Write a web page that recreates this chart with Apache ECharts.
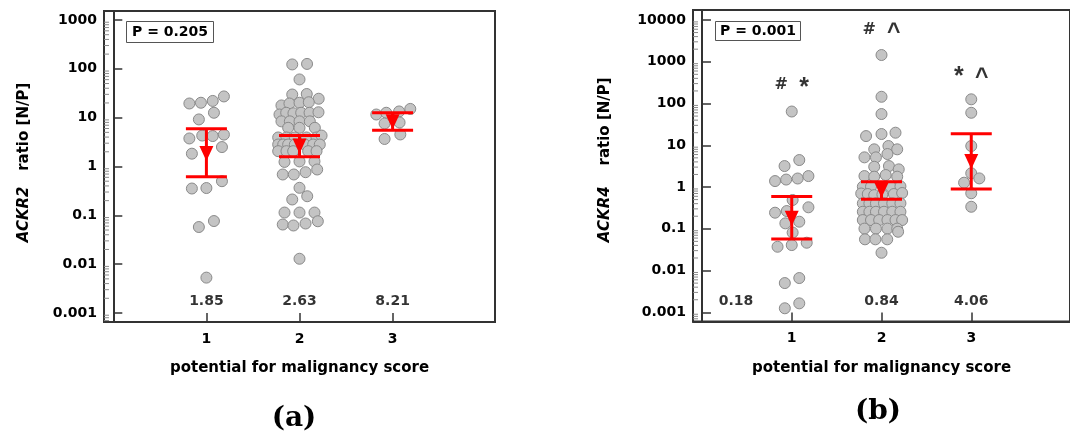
<!DOCTYPE html>
<html><head><meta charset="utf-8">
<script src="https://cdn.jsdelivr.net/npm/echarts@6/dist/echarts.min.js"></script>
<style>html,body{margin:0;padding:0;background:#fff}#c{width:1070px;height:432px}</style>
</head><body><div id="c"></div>
<script>
// ---------- data ----------
const scoreCategories = [1, 2, 3];
const xTickLabels = ['1', '2', '3'];
const xAxisTitle = 'potential for malignancy score';
const panelLabels = ['(a)', '(b)'];
const pValueTexts = ['P = 0.205', 'P = 0.001'];

// beeswarm points: [horizontal offset from the score, N/P ratio]
const ackr2Score1 = [[-0.183,19.5],[-0.059,20.2],[0.068,22],[0.188,27.2],[0.081,12.6],[-0.081,9.2],
  [-0.183,3.75],[-0.045,4.3],[0.068,4.2],[0.188,4.5],[0.167,2.5],[-0.156,1.83],
  [-0.156,0.354],[0,0.362],[0.167,0.50],[-0.081,0.0576],[0.081,0.0764],[0,0.0053]];
const ackr2Score2 = [[-0.078,123],[0.081,126],[0,60.6],[-0.078,29.8],[0.078,30.5],[0.206,24.4],
  [-0.194,17.8],[-0.108,19.5],[0,20.2],[0.1,20.7],
  [-0.215,11.6],[-0.143,12.6],[-0.065,12.3],[0.018,12.6],[0.108,12.6],[0.204,12.9],
  [-0.194,8.4],[-0.104,8.4],[0,8.4],[0.111,8.4],
  [-0.122,6.2],[0,6.2],[0.165,6.2],
  [-0.229,3.93],[-0.14,3.93],[-0.05,3.93],[0.075,3.93],[0.183,3.93],[0.237,4.3],
  [-0.229,2.82],[-0.175,2.82],[-0.122,2.82],[-0.05,2.82],[0.057,2.82],[0.147,2.82],[0.218,2.82],
  [-0.229,2.06],[-0.14,2.06],[-0.068,2.06],[0.093,2.06],[0.183,2.06],
  [-0.161,1.24],[0,1.27],[0.161,1.27],
  [-0.18,0.686],[-0.061,0.686],[0.065,0.764],[0.19,0.868],
  [0,0.366],[0.083,0.246],[-0.078,0.211],
  [-0.161,0.114],[0,0.114],[0.161,0.114],
  [-0.18,0.0648],[-0.065,0.0619],[0.065,0.068],[0.197,0.0756],
  [0,0.0129]];
const ackr2Score3 = [[-0.175,11.6],[-0.068,12.6],[0.07,13.4],[0.19,15.1],[-0.086,7.6],[0.075,7.97],
  [-0.086,3.66],[0.083,4.53]];

const ackr4Score1 = [[0,64.3],[-0.08,3.18],[0.084,4.43],[-0.186,1.39],[-0.062,1.51],[0.066,1.6],[0.186,1.83],
  [0.01,0.489],[-0.186,0.243],[-0.055,0.266],[0.186,0.327],[-0.071,0.135],[0.084,0.148],[0.01,0.0813],
  [-0.158,0.0372],[0,0.0408],[0.167,0.0464],[-0.077,0.00502],[0.084,0.00662],[-0.077,0.00125],[0.084,0.00164]];
const ackr4Score2 = [[0,1449],[0,145],[0,56],
  [-0.172,16.6],[0,18.6],[0.156,20],
  [-0.081,8.0],[0.077,9.6],[0.175,8.0],
  [-0.19,5.14],[-0.062,5.14],[0.066,6.17],
  [-0.081,3.06],[0.083,3.18],[0.192,2.65],
  [-0.19,1.83],[-0.081,1.77],[0.047,1.94],[0.175,1.77],
  [-0.208,1.02],[-0.117,1.02],[0.102,1.02],[0.211,1.04],
  [-0.226,0.70],[-0.153,0.68],[-0.081,0.64],[0.01,0.66],[0.138,0.68],[0.23,0.72],
  [-0.208,0.407],[-0.135,0.407],[-0.062,0.407],[0.028,0.407],[0.12,0.407],[0.211,0.407],
  [-0.208,0.256],[-0.135,0.256],[-0.062,0.256],[0.028,0.256],[0.12,0.256],[0.211,0.256],
  [-0.208,0.162],[-0.117,0.162],[-0.026,0.162],[0.066,0.162],[0.156,0.162],[0.23,0.162],
  [-0.19,0.101],[-0.062,0.101],[0.066,0.101],[0.175,0.101],
  [-0.184,0.056],[-0.068,0.056],[0.064,0.056],[0.185,0.085],
  [0,0.0267]];
const ackr4Score3 = [[0,126],[0,60],[0,9.6],[0,2.13],[0.09,1.61],[-0.08,1.27],[0,0.71],[0,0.337]];

// geometric means with confidence limits
const ackr2Mean  = [1.85, 2.63, 8.21];
const ackr2Lower = [0.62, 1.58, 5.54];
const ackr2Upper = [5.9, 4.31, 12.6];
const ackr4Mean  = [0.18, 0.84, 4.06];
const ackr4Lower = [0.057, 0.51, 0.9];
const ackr4Upper = [0.59, 1.34, 18.9];
const ackr2MeanText = ['1.85', '2.63', '8.21'];
const ackr4MeanText = ['0.18', '0.84', '4.06'];
const ackr4SignifText = ['# *', '# ^', '* ^'];
const ackr4SignifLevel = [277, 5910, 508];
const minorMultipliers = [2, 3, 4, 5, 6, 7, 8, 9];

// ---------- chart ----------
const FONT = 'DejaVu Sans';
const INK = '#000';
const xRange = [-0.1, 4.1];
const yRangeA = [0.000654, 1528];
const yRangeB = [0.000603, 17340];
const meanTextLevelA = 0.00174, meanTextLevelB = 0.00179;
const meanTextXA = [1, 2, 3], meanTextXB = [0.38, 2, 3];

function pts(groups) {
  const out = [];
  groups.forEach((g, i) => g.forEach(([dx, v]) => out.push([scoreCategories[i] + dx, v])));
  return out;
}
function yLabel(v) {
  const e = Math.round(Math.log10(v));
  if (Math.abs(Math.log10(v) - e) > 1e-6) return '';
  return e >= 0 ? String(Math.pow(10, e)) : Math.pow(10, e).toFixed(-e);
}
function xAxisCfg(gi) {
  return {
    gridIndex: gi, type: 'value', min: xRange[0], max: xRange[1],
    name: xAxisTitle, nameLocation: 'middle', nameGap: 39,
    nameTextStyle: {fontFamily: FONT, fontWeight: 'bold', fontSize: 15, color: INK},
    axisLine: {lineStyle: {color: '#333', width: 2}},
    axisTick: {inside: true, length: 9, customValues: scoreCategories, lineStyle: {color: '#333', width: 1.5}},
    axisLabel: {customValues: scoreCategories, margin: 10, fontFamily: FONT, fontWeight: 'bold', fontSize: 14, color: INK,
      formatter: v => xTickLabels[scoreCategories.indexOf(Math.round(v))] || ''},
    splitLine: {show: false}
  };
}
function yAxisCfg(gi, range, nameRich, gap, pad) {
  return {
    gridIndex: gi, type: 'log', logBase: 10, min: range[0], max: range[1],
    name: nameRich, nameLocation: 'middle', nameGap: gap,
    nameTextStyle: {fontFamily: FONT, fontWeight: 'bold', fontSize: 15, color: INK, padding: pad,
      rich: {i: {fontFamily: FONT, fontWeight: 'bold', fontStyle: 'italic', fontSize: 15, color: INK}}},
    axisLine: {lineStyle: {color: '#333', width: 2}},
    axisTick: {inside: true, length: 9, lineStyle: {color: '#333', width: 1.5}},
    axisLabel: {margin: 7, fontFamily: FONT, fontWeight: 'bold', fontSize: 14, color: INK,
      showMinLabel: false, showMaxLabel: false, formatter: yLabel},
    splitLine: {show: false}, minorTick: {show: false}
  };
}
function dotSeries(gi, groups) {
  return {type: 'scatter', xAxisIndex: gi, yAxisIndex: gi, data: pts(groups), symbolSize: 11, z: 2,
    itemStyle: {color: '#c4c4c4', borderColor: '#8a8a8a', borderWidth: 1, opacity: 1}, silent: true};
}
function errSeries(gi, lower, upper) {
  return {type: 'custom', xAxisIndex: gi, yAxisIndex: gi, z: 4, silent: true,
    data: scoreCategories.map((c, i) => [c, lower[i], upper[i]]),
    encode: {x: 0, y: [1, 2]},
    renderItem: function (params, api) {
      const x = api.value(0);
      const lo = api.coord([x, api.value(1)]);
      const hi = api.coord([x, api.value(2)]);
      const hw = 20.5;
      const st = {stroke: '#ff0000', lineWidth: 3};
      return {type: 'group', children: [
        {type: 'line', shape: {x1: hi[0], y1: hi[1], x2: lo[0], y2: lo[1]}, style: st},
        {type: 'line', shape: {x1: hi[0] - hw, y1: hi[1], x2: hi[0] + hw, y2: hi[1]}, style: st},
        {type: 'line', shape: {x1: lo[0] - hw, y1: lo[1], x2: lo[0] + hw, y2: lo[1]}, style: st}
      ]};
    }};
}
function meanSeries(gi, means) {
  return {type: 'scatter', xAxisIndex: gi, yAxisIndex: gi, z: 5, silent: true,
    data: scoreCategories.map((c, i) => [c, means[i]]),
    symbol: 'triangle', symbolRotate: 180, symbolSize: [14, 15],
    itemStyle: {color: '#ff0000', opacity: 1}};
}
function textSeries(gi, xs, levels, texts, style) {
  return {type: 'scatter', xAxisIndex: gi, yAxisIndex: gi, z: 6, silent: true, symbolSize: 1,
    itemStyle: {color: 'rgba(0,0,0,0)'},
    data: texts.map((t, i) => ({value: [xs[i], Array.isArray(levels) ? levels[i] : levels], name: t})),
    label: Object.assign({show: true, position: 'inside', color: INK, formatter: p => p.name}, style)};
}
function minorTickSeries(gi, range) {
  const decades = [];
  for (let e = Math.floor(Math.log10(range[0])); e <= Math.floor(Math.log10(range[1])); e++) decades.push(Math.pow(10, e));
  return {type: 'custom', xAxisIndex: gi, yAxisIndex: gi, z: 1, silent: true,
    data: decades.map(d => [xRange[0], d]),
    renderItem: function (params, api) {
      const base = api.value(1);
      const ch = [];
      minorMultipliers.forEach(k => {
        const v = base * k;
        if (v <= range[0] || v >= range[1]) return;
        const p = api.coord([xRange[0], v]);
        ch.push({type: 'line', shape: {x1: p[0], y1: p[1], x2: p[0] + 5, y2: p[1]}, style: {stroke: '#8a8a8a', lineWidth: 1}});
      });
      return {type: 'group', children: ch};
    }};
}
const symbolToken = {'#': 'h', '*': 'a', '^': 'c'};
const markStyle = {
  formatter: p => p.name.split(' ').map(s => '{' + (symbolToken[s] || 'h') + '|' + s + '}').join('{g|  }'),
  rich: {
    h: {fontFamily: FONT, fontWeight: 'bold', fontSize: 16, color: INK},
    g: {fontFamily: FONT, fontWeight: 'bold', fontSize: 16, color: INK},
    a: {fontFamily: 'Liberation Sans', fontWeight: 'bold', fontSize: 25, color: INK, padding: [7, 0, 0, 0]},
    c: {fontFamily: 'Liberation Sans', fontWeight: 'bold', fontSize: 23, color: INK, padding: [7, 0, 0, 0]}
  }
};

const chart = echarts.init(document.getElementById('c'), null, {renderer: 'canvas'});
chart.setOption({
  animation: false,
  backgroundColor: '#fff',
  grid: [
    {left: 104, top: 11, width: 391, height: 311, show: true, borderColor: '#333', borderWidth: 2, containLabel: false},
    {left: 693, top: 10, width: 385, height: 311.5, show: true, borderColor: '#333', borderWidth: 2, containLabel: false}
  ],
  title: [
    {text: pValueTexts[0], left: 126, top: 21, padding: [4, 6, 4, 6], borderColor: '#555', borderWidth: 1,
      textStyle: {fontFamily: FONT, fontWeight: 'bold', fontSize: 14, color: INK}},
    {text: pValueTexts[1], left: 715, top: 21, padding: [3, 5, 3, 5], borderColor: '#555', borderWidth: 1,
      textStyle: {fontFamily: FONT, fontWeight: 'bold', fontSize: 14, color: INK}}
  ],
  graphic: [
    {type: 'text', x: 294, y: 419, style: {text: panelLabels[0], font: 'bold 28px "DejaVu Serif"', fill: '#000', align: 'center', verticalAlign: 'middle'}},
    {type: 'text', x: 878, y: 412, style: {text: panelLabels[1], font: 'bold 28px "DejaVu Serif"', fill: '#000', align: 'center', verticalAlign: 'middle'}}
  ],
  xAxis: [xAxisCfg(0), xAxisCfg(1)],
  yAxis: [
    yAxisCfg(0, yRangeA, '{i|ACKR2}   ratio [N/P]', 72, [0, 0, 0, 8]),
    yAxisCfg(1, yRangeB, '{i|ACKR4}    ratio [N/P]', 80, [0, 0, 0, 12])
  ],
  series: [
    minorTickSeries(0, yRangeA),
    minorTickSeries(1, yRangeB),
    dotSeries(0, [ackr2Score1, ackr2Score2, ackr2Score3]),
    dotSeries(1, [ackr4Score1, ackr4Score2, ackr4Score3]),
    errSeries(0, ackr2Lower, ackr2Upper),
    errSeries(1, ackr4Lower, ackr4Upper),
    meanSeries(0, ackr2Mean),
    meanSeries(1, ackr4Mean),
    textSeries(0, meanTextXA, meanTextLevelA, ackr2MeanText, {fontFamily: FONT, fontWeight: 'bold', fontSize: 14}),
    textSeries(1, meanTextXB, meanTextLevelB, ackr4MeanText, {fontFamily: FONT, fontWeight: 'bold', fontSize: 14}),
    textSeries(1, scoreCategories, ackr4SignifLevel, ackr4SignifText, markStyle)
  ]
});
</script></body></html>
